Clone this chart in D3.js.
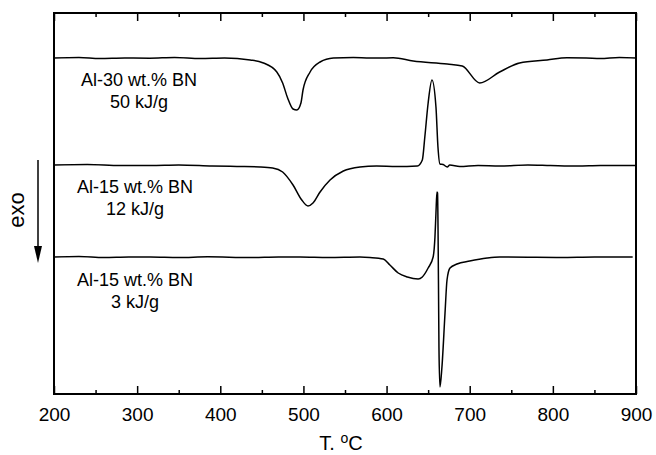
<!DOCTYPE html>
<html>
<head>
<meta charset="utf-8">
<script src="https://cdn.jsdelivr.net/npm/d3@7"></script>
<style>
  body { margin: 0; background: #fff; }
  text { font-family: "Liberation Sans", Arial, sans-serif; fill: #000; }
</style>
</head>
<body>
<div id="chart"></div>
<script>
// temperature (C) of each sample point
var tempA30 = [200, 230, 255, 285, 315, 345, 376, 405, 436, 451, 468, 475, 481, 487.5, 492, 497, 499.5, 508, 520, 536, 560, 580, 592, 608, 632, 673, 691, 712, 736, 760, 793, 817, 840, 857, 880, 900];
// signal, arbitrary units (exo down)
var sigA30 = [33.6, 33.65, 33.55, 33.6, 33.58, 33.65, 33.55, 33.6, 33.4, 33.13, 32.2, 31.1, 29.6, 28.5, 28.4, 29.1, 30.4, 32.2, 33.2, 33.6, 33.65, 33.6, 33.6, 33.62, 33.3, 33.0, 32.8, 31.1, 32.2, 33.1, 33.4, 33.62, 33.6, 33.55, 33.65, 33.6];

var tempA15a = [200, 240, 280, 316, 350, 390, 420, 448, 463, 475, 487.5, 498, 505.5, 511.5, 520, 532, 548, 568, 588, 612, 637, 643, 646, 650, 654.6, 659.4, 661.8, 664.2, 668, 673, 676, 688, 710, 736, 770, 797, 830, 857, 900];
var sigA15a = [22.9, 22.95, 22.85, 22.85, 22.9, 22.8, 22.75, 22.7, 22.6, 22.2, 20.9, 19.4, 18.8, 19.1, 20.2, 21.4, 22.3, 22.7, 22.8, 22.75, 22.8, 23.4, 25.7, 29.1, 31.4, 28.7, 24.7, 23.0, 22.95, 22.7, 22.9, 22.75, 22.85, 22.8, 22.9, 22.85, 22.8, 22.85, 22.85];

var tempA15b = [200, 230, 260, 290, 316, 350, 385, 436, 470, 496, 530, 568, 580, 596, 604, 614, 625, 638, 643, 650, 656, 658.2, 659.4, 660.6, 661.3, 662.4, 663, 664.2, 666.6, 670.3, 672.7, 676.3, 684.7, 700, 721, 736, 770, 809, 850, 896];
var sigA15b = [13.7, 13.75, 13.65, 13.7, 13.7, 13.65, 13.72, 13.65, 13.7, 13.7, 13.65, 13.7, 13.65, 13.5, 12.9, 12.1, 11.7, 11.5, 11.7, 12.6, 13.7, 15.7, 18.1, 20.2, 20.1, 11.4, 4.7, 0.7, 2.7, 8.1, 11.4, 12.6, 13.0, 13.3, 13.6, 13.7, 13.68, 13.65, 13.7, 13.7];

var xTicks = [200, 300, 400, 500, 600, 700, 800, 900];
var xMinorTicks = [250, 350, 450, 550, 650, 750, 850];

var curveLabels = [
  { lines: ["Al-30 wt.% BN", "50 kJ/g"], x: 139, y: 86 },
  { lines: ["Al-15 wt.% BN", "12 kJ/g"], x: 135, y: 193 },
  { lines: ["Al-15 wt.% BN", "3 kJ/g"], x: 135, y: 286 }
];

var svgWidth = 656;
var svgHeight = 455;
var margin = { top: 13, right: 20, bottom: 61, left: 54 };
var width = svgWidth - margin.left - margin.right;
var height = svgHeight - margin.top - margin.bottom;

var svg = d3.select("#chart")
  .append("svg")
  .attr("width", svgWidth)
  .attr("height", svgHeight);

svg.append("rect").attr("width", svgWidth).attr("height", svgHeight).attr("fill", "#fff");

var chartGroup = svg.append("g")
  .attr("transform", `translate(${margin.left}, ${margin.top})`);

var xScale = d3.scaleLinear().domain([200, 900]).range([0, width]);
var yScale = d3.scaleLinear().domain([0, 38.1]).range([height, 0]);

// frame
chartGroup.append("rect")
  .attr("width", width)
  .attr("height", height)
  .attr("fill", "none")
  .attr("stroke", "#000")
  .attr("stroke-width", 2);

// bottom axis, ticks pointing inwards
var bottomAxis = d3.axisBottom(xScale).tickValues(xTicks).tickSize(-8).tickPadding(14).tickFormat(d3.format("d"));
var xAxis = chartGroup.append("g")
  .attr("transform", `translate(0, ${height})`)
  .call(bottomAxis);
xAxis.select(".domain").remove();
xAxis.selectAll("line").attr("stroke-width", 1.5);
xAxis.selectAll("text").attr("font-size", 19).style("font-family", "Liberation Sans, Arial, sans-serif");

var bottomMinor = d3.axisBottom(xScale).tickValues(xMinorTicks).tickSize(-4).tickFormat("");
var xMinor = chartGroup.append("g").attr("transform", `translate(0, ${height})`).call(bottomMinor);
xMinor.select(".domain").remove();
xMinor.selectAll("line").attr("stroke-width", 1.5);

var topAxis = d3.axisTop(xScale).tickValues(xTicks).tickSize(-8).tickFormat("");
var xTop = chartGroup.append("g").call(topAxis);
xTop.select(".domain").remove();
xTop.selectAll("line").attr("stroke-width", 1.5);

var topMinor = d3.axisTop(xScale).tickValues(xMinorTicks).tickSize(-4).tickFormat("");
var xTopMinor = chartGroup.append("g").call(topMinor);
xTopMinor.select(".domain").remove();
xTopMinor.selectAll("line").attr("stroke-width", 1.5);

// curves
var line = d3.line()
  .x((d) => xScale(d[0]))
  .y((d) => yScale(d[1]))
  .curve(d3.curveMonotoneX);

[[tempA30, sigA30], [tempA15a, sigA15a], [tempA15b, sigA15b]].forEach(function (s) {
  var pts = s[0].map((t, i) => [t, s[1][i]]);
  chartGroup.append("path")
    .datum(pts)
    .attr("d", line)
    .attr("fill", "none")
    .attr("stroke", "#000")
    .attr("stroke-width", 1.5)
    .attr("stroke-linejoin", "round");
});

// curve labels
curveLabels.forEach(function (l) {
  l.lines.forEach(function (txt, i) {
    svg.append("text")
      .attr("x", l.x)
      .attr("y", l.y + i * 22)
      .attr("text-anchor", "middle")
      .attr("font-size", 18)
      .text(txt);
  });
});

// x title
var xTitle = svg.append("text")
  .attr("x", 341)
  .attr("y", 450)
  .attr("text-anchor", "middle")
  .attr("font-size", 20);
xTitle.append("tspan").text("T. ");
xTitle.append("tspan").attr("font-size", 14).attr("dy", -7).text("o");
xTitle.append("tspan").attr("dy", 7).text("C");

// exo arrow
svg.append("text")
  .attr("transform", "translate(24, 210) rotate(-90)")
  .attr("text-anchor", "middle")
  .attr("font-size", 22)
  .text("exo");

svg.append("line")
  .attr("x1", 38).attr("x2", 38)
  .attr("y1", 160).attr("y2", 250)
  .attr("stroke", "#000")
  .attr("stroke-width", 1.5);

svg.append("path")
  .attr("d", "M34,246 L42,246 L38,263 Z")
  .attr("fill", "#000");
</script>
</body>
</html>
